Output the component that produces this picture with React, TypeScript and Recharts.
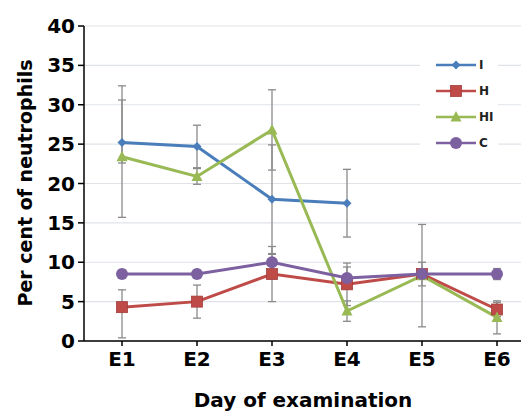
import { LineChart, Line, XAxis, YAxis, CartesianGrid, ErrorBar } from 'recharts';

const days = ['E1', 'E2', 'E3', 'E4', 'E5', 'E6'];
const iVals = [25.2, 24.7, 18.0, 17.5, null, null];
const iErr = [[2.6, 7.2], 2.7, 6.9, 4.3, null, null];
const hVals = [4.3, 5.0, 8.5, 7.2, 8.5, 4.0];
const hErr = [[3.9, 2.2], 2.1, 3.5, 2.7, 1.5, 0.9];
const hiVals = [23.4, 20.9, 26.8, 3.8, 8.3, 3.0];
const hiErr = [[7.7, 7.2], 1.0, 5.1, 1.3, 6.5, 2.1];
const cVals = [8.5, 8.5, 10.0, 8.0, 8.5, 8.5];
const cErr = [0.5, 0.5, 1.0, 1.4, 0.5, 0.7];
const yTicks = [0, 5, 10, 15, 20, 25, 30, 35, 40];

const data = days.map((d, i) => ({
  day: d,
  I: iVals[i],
  iErr: iErr[i],
  H: hVals[i],
  hErr: hErr[i],
  HI: hiVals[i],
  hiErr: hiErr[i],
  C: cVals[i],
  cErr: cErr[i],
}));

const FONT = '"DejaVu Sans", sans-serif';
const BLUE = '#4a7ebb';
const RED = '#be4b48';
const GREEN = '#98b954';
const PURPLE = '#7d60a0';

const shapes: Record<string, (x: number, y: number) => JSX.Element> = {
  diamond: (x, y) => <polygon points={`${x},${y - 4.5} ${x + 4.5},${y} ${x},${y + 4.5} ${x - 4.5},${y}`} fill={BLUE} />,
  square: (x, y) => <rect x={x - 5.5} y={y - 5.5} width={11} height={11} fill={RED} stroke="#a33d3a" strokeWidth={0.8} />,
  triangle: (x, y) => <polygon points={`${x},${y - 6} ${x + 5.5},${y + 4.5} ${x - 5.5},${y + 4.5}`} fill={GREEN} />,
  circle: (x, y) => <circle cx={x} cy={y} r={6} fill={PURPLE} />,
};

const makeDot = (kind: string) => (props: any) => {
  const { cx, cy, index } = props;
  if (cx == null || cy == null) return <g key={index} />;
  return <g key={index}>{shapes[kind](cx, cy)}</g>;
};

const legendItems = [
  { name: 'I', color: BLUE, kind: 'diamond' },
  { name: 'H', color: RED, kind: 'square' },
  { name: 'HI', color: GREEN, kind: 'triangle' },
  { name: 'C', color: PURPLE, kind: 'circle' },
];

function LegendBox() {
  return (
    <div style={{ position: 'absolute', left: 420, top: 50, width: 78, background: '#fff', padding: '2px 0 2px 14px', boxSizing: 'border-box' }}>
      {legendItems.map((it) => (
        <div key={it.name} style={{ display: 'flex', alignItems: 'center', height: 26 }}>
          <svg width={44} height={14}>
            <line x1={2} y1={7} x2={42} y2={7} stroke={it.color} strokeWidth={2.5} />
            {shapes[it.kind](22, 7)}
          </svg>
          <span style={{ fontFamily: FONT, fontWeight: 'bold', fontSize: 12, color: '#222', marginLeft: 1 }}>{it.name}</span>
        </div>
      ))}
    </div>
  );
}

export default function App() {
  return (
    <div style={{ position: 'absolute', left: 0, top: 0, width: 521, height: 412, background: '#fff' }}>
      <LineChart width={521} height={412} data={data} margin={{ top: 26, right: 0, left: 24, bottom: 0 }}>
        <CartesianGrid vertical={false} stroke="#dfe3e8" strokeWidth={1.2} />
        <XAxis
          dataKey="day"
          padding={{ left: 38, right: 24 }}
          height={71}
          axisLine={{ stroke: '#000', strokeWidth: 1.5 }}
          tickLine={{ stroke: '#000', strokeWidth: 1.5 }}
          tickSize={5}
          tickMargin={6}
          tick={{ fill: '#000', fontSize: 20, fontWeight: 'bold', fontFamily: FONT }}
          label={{
            content: () => (
              <text x={303} y={407} textAnchor="middle" fontFamily={FONT} fontWeight="bold" fontSize={20} fill="#000">
                Day of examination
              </text>
            ),
          }}
        />
        <YAxis
          domain={[0, 40]}
          ticks={yTicks}
          interval={0}
          width={60}
          axisLine={{ stroke: '#000', strokeWidth: 1.5 }}
          tickLine={{ stroke: '#000', strokeWidth: 1.5 }}
          tickSize={6}
          tickMargin={3}
          tick={{ fill: '#000', fontSize: 20, fontWeight: 'bold', fontFamily: FONT }}
          label={{
            content: () => (
              <text
                x={25}
                y={183}
                transform="rotate(-90 25 183)"
                textAnchor="middle"
                dominantBaseline="central"
                fontFamily={FONT}
                fontWeight="bold"
                fontSize={19}
                fill="#000"
              >
                Per cent of neutrophils
              </text>
            ),
          }}
        />
        <Line dataKey="I" stroke={BLUE} strokeWidth={3} dot={makeDot('diamond')} activeDot={false} isAnimationActive={false}>
          <ErrorBar dataKey="iErr" width={4} stroke="#8a8a8a" strokeWidth={1.3} direction="y" />
        </Line>
        <Line dataKey="H" stroke={RED} strokeWidth={3} dot={makeDot('square')} activeDot={false} isAnimationActive={false}>
          <ErrorBar dataKey="hErr" width={4} stroke="#8a8a8a" strokeWidth={1.3} direction="y" />
        </Line>
        <Line dataKey="HI" stroke={GREEN} strokeWidth={3} dot={makeDot('triangle')} activeDot={false} isAnimationActive={false}>
          <ErrorBar dataKey="hiErr" width={4} stroke="#8a8a8a" strokeWidth={1.3} direction="y" />
        </Line>
        <Line dataKey="C" stroke={PURPLE} strokeWidth={3} dot={makeDot('circle')} activeDot={false} isAnimationActive={false}>
          <ErrorBar dataKey="cErr" width={4} stroke="#8a8a8a" strokeWidth={1.3} direction="y" />
        </Line>
      </LineChart>
      <LegendBox />
    </div>
  );
}
